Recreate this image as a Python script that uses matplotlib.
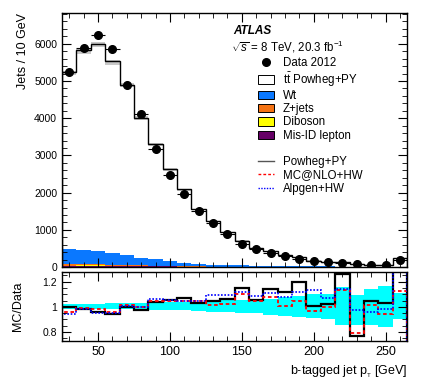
import matplotlib
matplotlib.use("Agg")
import matplotlib.pyplot as plt
import numpy as np
from matplotlib.patches import Patch
from matplotlib.lines import Line2D

plt.rcParams['font.family'] = ['Liberation Sans', 'DejaVu Sans']
plt.rcParams['mathtext.fontset'] = 'custom'
plt.rcParams['mathtext.rm'] = 'Liberation Sans'
plt.rcParams['mathtext.it'] = 'Liberation Sans:italic'

# binning: 10 GeV bins, 25 - 265 GeV
edges = np.arange(25, 266, 10)
centers = 0.5 * (edges[1:] + edges[:-1])

data = [5235, 5900, 6240, 5865, 4905, 4125, 3170, 2485, 1950, 1505, 1175, 880,
        620, 490, 380, 290, 215, 175, 127, 100, 95, 62, 50, 185]

# MC/Data ratios
r_powheg = [1.0, 0.987, 0.96, 0.942, 1.0, 0.974, 1.04, 1.058, 1.071, 1.03, 1.05, 1.066,
            1.147, 1.058, 1.14, 1.12, 1.195, 1.003, 1.02, 1.26, 0.77, 1.047, 1.027, 1.35]
r_mcnlo = [0.956, 0.99, 0.984, 0.958, 1.016, 1.0, 1.05, 1.05, 1.047, 1.05, 1.018, 1.024,
           1.10, 1.05, 1.08, 1.005, 1.045, 0.966, 0.995, 1.135, 0.795, 1.013, 0.94, 1.126]
r_alpgen = [0.942, 0.987, 0.955, 0.955, 1.008, 1.0, 1.06, 1.058, 1.047, 1.05, 1.095, 1.095,
            1.12, 1.087, 1.113, 1.08, 1.12, 1.13, 1.068, 1.142, 0.974, 0.958, 0.982, 1.32]
band_lo = [0.987, 0.987, 0.985, 0.983, 0.98, 0.979, 0.977, 0.975, 0.973, 0.968, 0.962, 0.958,
           0.95, 0.948, 0.935, 0.928, 0.92, 0.91, 0.9, 0.855, 0.855, 0.855, 0.842, 0.903]
band_hi = [1.024, 1.025, 1.026, 1.027, 1.028, 1.03, 1.032, 1.035, 1.037, 1.042, 1.048, 1.052,
           1.055, 1.058, 1.066, 1.075, 1.085, 1.098, 1.105, 1.16, 1.092, 1.145, 1.164, 1.106]

# backgrounds
misid = [30, 40, 40, 35, 30, 25, 20, 15, 12, 10, 8, 7, 6, 5, 4, 4, 3, 3, 2, 2, 2, 2, 1, 2]
zjets = [60, 40, 30, 25, 20, 15, 12, 10, 8, 6, 5, 4, 3, 3, 2, 2, 2, 2, 1, 1, 1, 1, 1, 1]
diboson = [5, 4, 4, 3, 3, 3, 2, 2, 2, 2, 1, 1, 1, 1, 1, 1, 1, 1, 1, 1, 1, 1, 1, 1]
bkg_total = [475, 450, 425, 372, 326, 236, 212, 152, 115, 85, 60, 55, 42, 38, 30, 28,
             22, 20, 16, 14, 12, 10, 9, 12]

data = np.array(data)
total_mc = np.array(r_powheg) * data
misid = np.array(misid)
zjets = np.array(zjets)
diboson = np.array(diboson)
wt = np.array(bkg_total) - misid - zjets - diboson

c_wt = '#0a78ff'
c_z = '#f57314'
c_db = '#ffff00'
c_mis = '#660066'

fig = plt.figure(figsize=(4.25, 3.91), dpi=100)
ax = fig.add_axes([0.146, 0.317, 0.812, 0.650])
rax = fig.add_axes([0.146, 0.128, 0.812, 0.176])

# stacked histogram
base = np.zeros(len(data))
for vals, col in [(misid, c_mis), (diboson, c_db), (zjets, c_z), (wt, c_wt)]:
    ax.stairs(base + vals, edges, baseline=base, fill=True, color=col, lw=0)
    base = base + vals
ax.stairs(total_mc, edges, baseline=base, fill=True, color='white', lw=0)
# MC uncertainty band
ax.stairs(total_mc * 1.008, edges, baseline=total_mc * 0.985, fill=True,
          color='#c8c8c8', lw=0)
ax.stairs(total_mc, edges, color='black', lw=1.0)

ax.errorbar(centers, data, xerr=5, yerr=np.sqrt(data), fmt='o', color='black',
            ms=5.5, lw=0.8, capsize=0)

ax.set_xlim(25, 265)
ax.set_ylim(0, 6830)
ax.set_yticks([0, 1000, 2000, 3000, 4000, 5000, 6000])
ax.set_yticks(np.arange(0, 6830, 200), minor=True)
ax.set_xticks([50, 100, 150, 200, 250])
ax.set_xticks(np.arange(30, 265, 10), minor=True)
ax.set_xticklabels([])
ax.set_ylabel('Jets / 10 GeV', fontsize=9, loc='top')
ax.yaxis.set_label_coords(-0.095, 1.0)

for a in (ax, rax):
    a.tick_params(which='both', direction='in', top=True, right=True, labelsize=7.5)
    a.tick_params(which='major', length=6.5, width=0.8)
    a.tick_params(which='minor', length=3.5, width=0.6)
    for s in a.spines.values():
        s.set_linewidth(1.0)

# legend
ax.text(0.495, 0.93, 'ATLAS', transform=ax.transAxes, fontsize=8.5,
        fontweight='bold', fontstyle='italic', va='center')
ax.text(0.49, 0.865, r'$\sqrt{s}$ = 8 TeV, 20.3 fb$^{-1}$', transform=ax.transAxes,
        fontsize=8.3, va='center')

handles = [
    Line2D([], [], marker='o', color='black', ls='none', ms=5.5),
    Patch(facecolor='white', edgecolor='black', lw=0.7),
    Patch(facecolor=c_wt, edgecolor='black', lw=0.7),
    Patch(facecolor=c_z, edgecolor='black', lw=0.7),
    Patch(facecolor=c_db, edgecolor='black', lw=0.7),
    Patch(facecolor=c_mis, edgecolor='black', lw=0.7),
    Line2D([], [], color='none'),
    Line2D([], [], color='#555555', lw=1.0),
    Line2D([], [], color='red', lw=1.0, ls=(0, (2, 1.5))),
    Line2D([], [], color='blue', lw=1.0, ls=(0, (1, 1))),
]
labels = ['Data 2012', r'$\mathrm{t\bar{t}}$ Powheg+PY', 'Wt', 'Z+jets', 'Diboson',
          'Mis-ID lepton', '', 'Powheg+PY', 'MC@NLO+HW', 'Alpgen+HW']
ax.legend(handles, labels, loc='upper left', bbox_to_anchor=(0.567, 0.826),
          frameon=False, fontsize=8.3, handlelength=1.45, handleheight=0.75,
          handletextpad=0.75, labelspacing=0.11, borderpad=0, borderaxespad=0)

# ratio panel
rax.stairs(band_hi, edges, baseline=band_lo, fill=True, color='#00ffff', lw=0)
rax.stairs(r_powheg, edges, color='black', lw=1.6)
rax.stairs(r_mcnlo, edges, color='red', lw=1.3, ls=(0, (2, 1.5)))
rax.stairs(r_alpgen, edges, color='blue', lw=1.2, ls=(0, (1, 1)))
rax.set_xlim(25, 265)
rax.set_ylim(0.73, 1.275)
rax.set_yticks([0.8, 1.0, 1.2])
rax.set_yticklabels(['0.8', '1', '1.2'])
rax.set_yticks(np.arange(0.75, 1.27, 0.05), minor=True)
rax.set_xticks([50, 100, 150, 200, 250])
rax.set_xticks(np.arange(30, 265, 10), minor=True)
rax.tick_params(axis='x', labelsize=9)
rax.set_ylabel('MC/Data', fontsize=9)
rax.yaxis.set_label_coords(-0.11, 0.5)
rax.set_xlabel(r'b-tagged jet p$_{_\mathrm{T}}$ [GeV]', fontsize=9, loc='right')

fig.savefig('out.png', dpi=100)
